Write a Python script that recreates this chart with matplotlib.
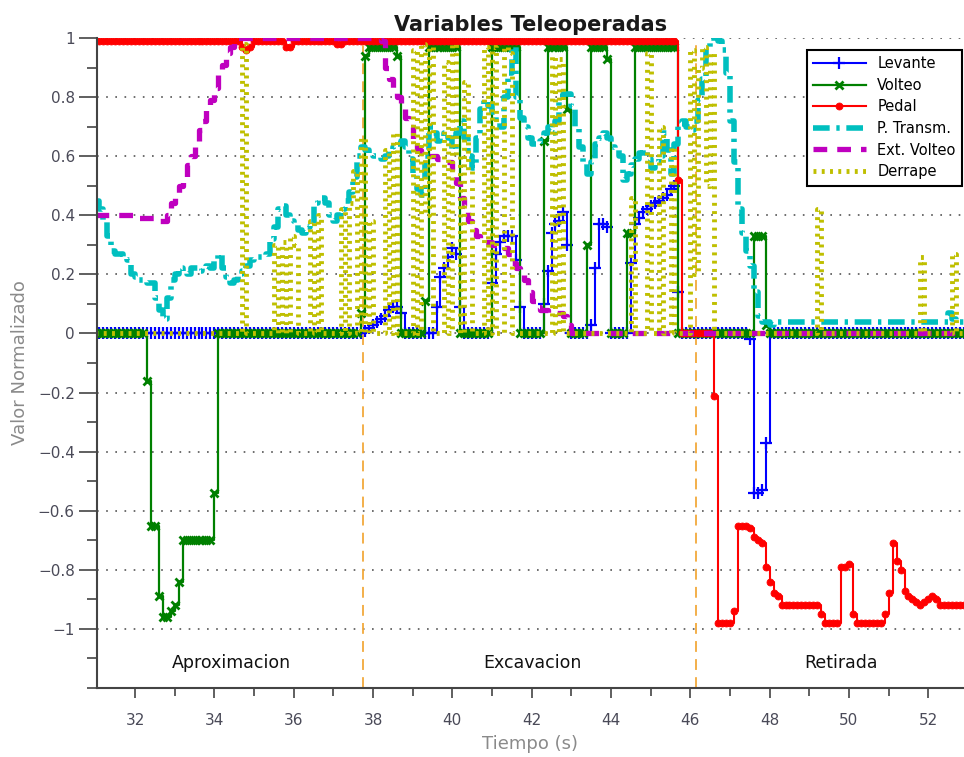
"""Normalised teleoperated variables during approach, excavation and retreat."""

from matplotlib import pyplot
from matplotlib import ticker
import numpy


# Sampling instants of the recording (s), one every 0.1 s from 31.0 s.
time = numpy.round(31.0 + 0.1 * numpy.arange(220), 1)

levante = (
    [0.0] * 68
    + [0.01, 0.02, 0.03, 0.04, 0.05, 0.06, 0.08, 0.09, 0.09, 0.07]
    + [0.0] * 8
    + [0.09, 0.19, 0.22, 0.26, 0.29, 0.27, 0.09]
    + [0.0] * 7
    + [0.17, 0.27, 0.31, 0.33, 0.33, 0.33, 0.25, 0.09]
    + [0.0] * 5
    + [0.10, 0.21, 0.34, 0.37, 0.38, 0.41, 0.30]
    + [0.0] * 5
    + [0.03, 0.22, 0.37, 0.37, 0.36]
    + [0.0] * 5
    + [0.24, 0.37, 0.39, 0.41, 0.42, 0.43, 0.44, 0.45, 0.46, 0.47, 0.49,
       0.50, 0.14]
    + [0.0] * 17
    + [-0.02, -0.54, -0.54, -0.53, -0.37]
    + [0.0] * 50
)

volteo = (
    [0.0] * 13
    + [-0.16, -0.65, -0.65, -0.89, -0.96, -0.96, -0.94, -0.92, -0.84]
    + [-0.70] * 8 + [-0.54]
    + [0.0] * 36
    + [0.07, 0.94] + [0.97] * 7 + [0.94]
    + [0.0] * 6
    + [0.11] + [0.97] * 8
    + [0.0] * 8
    + [0.97] * 7
    + [0.0] * 6
    + [0.65] + [0.97] * 5 + [0.76]
    + [0.0] * 4
    + [0.30] + [0.97] * 4 + [0.93]
    + [0.0] * 4
    + [0.34, 0.34] + [0.97] * 11
    + [0.0] * 19
    + [0.33, 0.33, 0.33, 0.03]
    + [0.0] * 50
)

pedal = (
    [0.99] * 37
    + [0.97, 0.96, 0.97]
    + [0.99] * 8
    + [0.97, 0.97]
    + [0.99] * 11
    + [0.98, 0.98]
    + [0.99] * 84
    + [0.52]
    + [0.0] * 8
    + [-0.21]
    + [-0.98] * 4
    + [-0.94]
    + [-0.65] * 3
    + [-0.66, -0.69, -0.70, -0.71, -0.79, -0.84, -0.88, -0.89, -0.92]
    + [-0.92] * 9
    + [-0.95] + [-0.98] * 4
    + [-0.79, -0.79, -0.78, -0.95]
    + [-0.98] * 7
    + [-0.95, -0.88, -0.71, -0.77, -0.80, -0.87, -0.89, -0.90, -0.91,
       -0.92, -0.91, -0.90, -0.89, -0.90]
    + [-0.92] * 7
)

p_transm = (
    [0.45, 0.42, 0.38, 0.33, 0.28, 0.27, 0.27, 0.26, 0.25, 0.20,
     0.19, 0.18, 0.18, 0.17, 0.17, 0.12, 0.08, 0.05, 0.12, 0.18,
     0.20, 0.22, 0.21, 0.20, 0.22, 0.22, 0.21, 0.22, 0.23, 0.22,
     0.25, 0.27, 0.22, 0.19, 0.17, 0.18, 0.20, 0.21, 0.23, 0.25,
     0.26, 0.26, 0.26, 0.27, 0.32, 0.36, 0.42, 0.43, 0.40, 0.38,
     0.37, 0.35, 0.34, 0.36, 0.37, 0.44, 0.46, 0.46, 0.44, 0.40,
     0.38, 0.40, 0.42, 0.45, 0.48, 0.53, 0.60, 0.63, 0.62, 0.61,
     0.60, 0.60, 0.59, 0.60, 0.62, 0.63, 0.64, 0.65, 0.63, 0.59,
     0.54, 0.49, 0.47, 0.60, 0.70, 0.68, 0.65, 0.66, 0.68, 0.66,
     0.62, 0.68, 0.72, 0.66, 0.60, 0.56, 0.66, 0.76, 0.79, 0.77,
     0.75, 0.72, 0.70, 0.80, 0.88, 0.97, 0.80, 0.73, 0.70, 0.66,
     0.64, 0.64, 0.65, 0.68, 0.70, 0.68, 0.72, 0.80, 0.81, 0.81,
     0.77, 0.70, 0.63, 0.58, 0.54, 0.58, 0.64, 0.66, 0.68, 0.66,
     0.63, 0.62, 0.60, 0.52, 0.54, 0.57, 0.59, 0.61, 0.62, 0.59,
     0.56, 0.58, 0.60, 0.68, 0.62, 0.54, 0.64, 0.71, 0.72, 0.70,
     0.69, 0.72, 0.79, 0.86, 0.97, 1.00, 1.00, 0.99, 0.96, 0.88,
     0.72, 0.58, 0.42, 0.34, 0.28, 0.23, 0.14, 0.06, 0.04, 0.04,
     0.03]
    + [0.04] * 44
    + [0.07, 0.05, 0.04, 0.04, 0.04]
)

ext_volteo = (
    [0.40] * 11 + [0.39] * 4 + [0.38] * 3
    + [0.40, 0.44, 0.47, 0.50, 0.53, 0.57, 0.60, 0.64, 0.69, 0.72, 0.76,
       0.79, 0.83, 0.88, 0.91, 0.95, 0.97, 0.99]
    + [1.0] * 36
    + [0.99, 0.90, 0.86, 0.83, 0.80, 0.78, 0.73, 0.70, 0.65, 0.62,
       0.61, 0.61, 0.60, 0.60, 0.59, 0.59, 0.58, 0.58, 0.55, 0.51,
       0.46, 0.43, 0.38, 0.35, 0.33, 0.32, 0.31, 0.31, 0.30, 0.30,
       0.30, 0.29, 0.27, 0.24, 0.22, 0.20, 0.18, 0.14, 0.11, 0.09,
       0.08, 0.08, 0.07, 0.07, 0.07, 0.07, 0.06, 0.03]
    + [0.0] * 100
)

derrape = (
    [0.0] * 37 + [0.98] + [0.0] * 7
    + [0.30, 0.0, 0.31, 0.0, 0.33, 0.30] + [0.0] * 3
    + [0.38, 0.0, 0.40] + [0.0] * 5
    + [0.42, 0.0, 0.44, 0.55, 0.0, 0.66, 0.0, 0.38] + [0.0] * 3
    + [0.62, 0.0, 0.68, 0.0] + [0.0] * 3
    + [0.96, 0.0, 0.98, 0.40, 0.97] + [0.0] * 3
    + [0.92, 0.0, 0.98, 0.60, 0.0, 0.85, 0.55] + [0.0] * 2
    + [0.0, 0.97, 0.0, 0.97, 0.0, 0.0, 0.97, 0.95] + [0.0] * 9
    + [0.0, 0.94, 0.0, 0.93] + [0.0] * 17
    + [0.46] + [0.0] * 3
    + [0.95, 0.0, 0.0, 0.70, 0.0, 0.0, 0.63, 0.0] + [0.0] * 3
    + [0.96, 0.20, 0.90, 0.97, 0.50, 0.95] + [0.0] * 26
    + [0.42] + [0.0] * 25 + [0.26] + [0.0] * 7 + [0.27] + [0.0] * 3
)

# Phases of the manoeuvre.
phase_names = ['Aproximacion', 'Excavacion', 'Retirada']
phase_centers = [34.42, 42.03, 49.80]
phase_bounds = [37.75, 46.15]

ytick_values = [-1.0, -0.8, -0.6, -0.4, -0.2, 0.0, 0.2, 0.4, 0.6, 0.8, 1.0]
ytick_labels = ['\u22121', '\u22120.8', '\u22120.6', '\u22120.4', '\u22120.2',
                '0', '0.2', '0.4', '0.6', '0.8', '1']
xtick_values = [32, 34, 36, 38, 40, 42, 44, 46, 48, 50, 52]

for name, series in [('levante', levante), ('volteo', volteo),
                     ('pedal', pedal), ('p_transm', p_transm),
                     ('ext_volteo', ext_volteo), ('derrape', derrape)]:
    assert len(series) == time.size, (name, len(series))

# Plot the normalised variables.
fig = pyplot.figure(figsize=(9.64, 7.57), dpi=100)
ax = fig.add_axes([97 / 964, 69 / 757, 867 / 964, 650 / 757])

for tb in phase_bounds:
    ax.axvline(tb, color='#f2a93b', linewidth=1.3, linestyle=(0, (6, 4)),
               zorder=1)

ax.plot(time, levante, color='b', linewidth=1.5, marker='+',
        markersize=8.5, markeredgewidth=1.6, drawstyle='steps-post',
        label='Levante', zorder=2)
ax.plot(time, volteo, color='g', linewidth=1.6, marker='x',
        markersize=5.5, markeredgewidth=2.0, drawstyle='steps-post',
        label='Volteo', zorder=2)
ax.plot(time, pedal, color='r', linewidth=1.5, marker='o',
        markersize=5, markeredgewidth=0.6, drawstyle='steps-post',
        label='Pedal', zorder=2)
ax.plot(time, p_transm, color='c', linewidth=4, dashes=(3, 1.2, 0.6, 1.2),
        drawstyle='steps-post', label='P. Transm.', zorder=2)
ax.plot(time, ext_volteo, color='m', linewidth=3.8, dashes=(2.6, 1.9),
        drawstyle='steps-post', label='Ext. Volteo', zorder=2)
ax.plot(time, derrape, color='y', linewidth=3.5, dashes=(0.6, 1.1),
        drawstyle='steps-post', label='Derrape', zorder=2)

for name, tc in zip(phase_names, phase_centers):
    ax.text(tc, -1.115, name, ha='center', va='center', fontsize=12.5,
            color='#111111')

ax.set_xlim(31.04, 52.9)
ax.set_ylim(-1.2, 1.0)
ax.set_yticks(ytick_values, ytick_labels)
ax.set_xticks(xtick_values)
ax.yaxis.set_minor_locator(ticker.MultipleLocator(0.1))
ax.xaxis.set_minor_locator(ticker.MultipleLocator(1.0))
ax.tick_params(which='both', direction='out', color='#444444', width=1.2,
               labelcolor='#4a4a58', labelsize=11)
ax.tick_params(axis='y', which='major', length=13, pad=3)
ax.tick_params(axis='y', which='minor', length=7)
ax.tick_params(axis='x', which='major', length=7, pad=11)
ax.tick_params(axis='x', which='minor', length=5.5)
ax.yaxis.grid(True, which='major', color='#555555', linewidth=1.2,
              linestyle=(0, (1, 4.5)))
ax.set_axisbelow(True)
for side in ['top', 'right']:
    ax.spines[side].set_visible(False)
for side in ['left', 'bottom']:
    ax.spines[side].set_color('#444444')
    ax.spines[side].set_linewidth(1.5)

ax.set_title('Variables Teleoperadas', fontsize=15, fontweight='bold',
             color='#1a1a1a', pad=5)
ax.set_xlabel('Tiempo (s)', fontsize=13, color='#8a8a8a')
ax.set_ylabel('Valor Normalizado', fontsize=13, color='#8a8a8a')
ax.xaxis.set_label_coords(0.5, -0.072)
ax.yaxis.set_label_coords(-0.078, 0.5)

legend = ax.legend(loc='upper right', bbox_to_anchor=(0.998, 0.982),
                   borderaxespad=0, fancybox=False, framealpha=1,
                   edgecolor='black', fontsize=10.5, handlelength=3.6,
                   labelspacing=0.45, borderpad=0.45, handletextpad=0.8)
legend.get_frame().set_linewidth(1.5)

fig.savefig('out.png', dpi=100)
